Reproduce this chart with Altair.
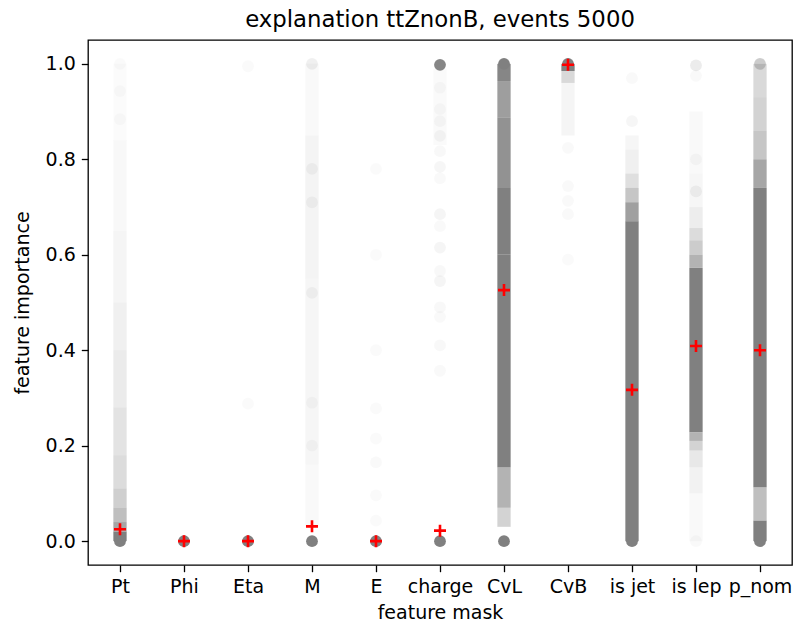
import altair as alt
import pandas as pd

features = ["Pt", "Phi", "Eta", "M", "E", "charge", "CvL", "CvB", "is jet", "is lep", "p_nom"]
mean_importance = [0.025, 0.0, 0.0, 0.031, 0.0, 0.022, 0.526, 0.998, 0.317, 0.409, 0.400]

# dense stretches of overlapping points: feature, low, high, apparent opacity
band_feature = (["Pt"] * 11 + ["M"] * 4 + ["charge"] + ["CvL"] * 7 + ["CvB"] * 3
                + ["is jet"] * 6 + ["is lep"] * 12 + ["p_nom"] * 7)
band_low = [0.0, 0.02, 0.04, 0.07, 0.11, 0.18, 0.28, 0.40, 0.50, 0.65, 0.84,
            0.03, 0.16, 0.55, 0.85,
            0.83,
            0.03, 0.07, 0.155, 0.60, 0.74, 0.887, 0.964,
            0.85, 0.96, 0.985,
            0.0, 0.67, 0.71, 0.74, 0.77, 0.82,
            0.0, 0.10, 0.155, 0.19, 0.21, 0.228, 0.573, 0.60, 0.63, 0.656, 0.70, 0.77,
            0.0, 0.043, 0.113, 0.74, 0.80, 0.86, 0.93]
band_high = [0.02, 0.04, 0.07, 0.11, 0.18, 0.28, 0.40, 0.50, 0.65, 0.84, 1.0,
             0.16, 0.55, 0.85, 1.0,
             0.99,
             0.07, 0.155, 0.60, 0.74, 0.887, 0.964, 1.0,
             0.96, 0.985, 1.0,
             0.67, 0.71, 0.74, 0.77, 0.82, 0.85,
             0.10, 0.155, 0.19, 0.21, 0.228, 0.573, 0.60, 0.63, 0.656, 0.70, 0.77, 0.90,
             0.043, 0.113, 0.74, 0.80, 0.86, 0.93, 1.0]
band_alpha = [1.0, 0.7, 0.5, 0.38, 0.28, 0.22, 0.16, 0.12, 0.08, 0.06, 0.035,
              0.05, 0.07, 0.09, 0.05,
              0.04,
              0.35, 0.6, 1.0, 1.0, 0.86, 0.76, 0.95,
              0.08, 0.3, 1.0,
              1.0, 0.75, 0.45, 0.25, 0.12, 0.07,
              0.05, 0.1, 0.18, 0.35, 0.6, 1.0, 0.6, 0.4, 0.28, 0.14, 0.07, 0.05,
              1.0, 0.5, 1.0, 0.7, 0.45, 0.35, 0.3]

# single visible points: feature, value, apparent opacity
dot_feature = (["Pt"] * 4 + ["Phi"] + ["Eta"] * 3 + ["M"] * 7 + ["E"] * 9
               + ["charge"] * 18 + ["CvL"] * 2 + ["CvB"] * 6 + ["is jet"] * 3
               + ["is lep"] * 5 + ["p_nom"] * 2)
dot_value = [0.0, 1.0, 0.943, 0.884,
             0.0,
             0.0, 0.995, 0.288,
             0.0, 1.0, 0.78, 0.71, 0.52, 0.29, 0.20,
             0.0, 0.78, 0.60, 0.40, 0.278, 0.215, 0.165, 0.096, 0.043,
             0.0, 0.998, 0.95, 0.905, 0.88, 0.849, 0.817, 0.784, 0.76,
             0.685, 0.66, 0.615, 0.566, 0.545, 0.49, 0.47, 0.41, 0.357,
             0.0, 1.0,
             1.0, 0.824, 0.744, 0.713, 0.685, 0.59,
             0.0, 0.97, 0.88,
             0.0, 0.997, 0.975, 0.733, 0.80,
             0.0, 1.0]
dot_alpha = [1.0, 0.04, 0.04, 0.04,
             1.0,
             1.0, 0.04, 0.04,
             1.0, 0.12, 0.08, 0.08, 0.08, 0.06, 0.06,
             1.0, 0.04, 0.04, 0.04, 0.04, 0.04, 0.05, 0.04, 0.04,
             1.0, 0.95, 0.05, 0.05, 0.06, 0.07, 0.06, 0.07, 0.05,
             0.08, 0.05, 0.08, 0.06, 0.08, 0.06, 0.05, 0.06, 0.05,
             1.0, 1.0,
             1.0, 0.05, 0.05, 0.05, 0.05, 0.04,
             1.0, 0.05, 0.07,
             0.05, 0.15, 0.05, 0.1, 0.06,
             1.0, 0.4]

bands = pd.DataFrame({"feature": band_feature, "value": band_low,
                      "value2": band_high, "alpha": band_alpha})
dots = pd.DataFrame({"feature": dot_feature, "value": dot_value, "alpha": dot_alpha})
means = pd.DataFrame({"feature": features, "value": mean_importance})

FONT = "DejaVu Sans"
GRAY = "#808080"

x_enc = alt.X("feature:N", sort=features, title="feature mask",
              scale=alt.Scale(type="point", padding=0.5),
              axis=alt.Axis(labelAngle=0))
y_enc = alt.Y("value:Q", title="feature importance",
              scale=alt.Scale(domain=[-0.05, 1.05], nice=False, zero=False),
              axis=alt.Axis(values=[0.0, 0.2, 0.4, 0.6, 0.8, 1.0], format=".1f"))

band_layer = alt.Chart(bands).mark_rule(strokeWidth=13.3, strokeCap="butt", color=GRAY).encode(
    x=x_enc, y=y_enc, y2="value2:Q",
    opacity=alt.Opacity("alpha:Q", scale=None, legend=None),
)

dot_layer = alt.Chart(dots).mark_circle(size=139, color=GRAY).encode(
    x=x_enc, y=y_enc,
    opacity=alt.Opacity("alpha:Q", scale=None, legend=None),
)

mean_layer = alt.Chart(means).mark_point(
    shape="M-1,0L1,0M0,-1L0,1", size=144, filled=False, stroke="red",
    strokeWidth=2.6, opacity=1,
).encode(x=x_enc, y=y_enc)

chart = alt.layer(band_layer, dot_layer, mean_layer).properties(
    width=704, height=525,
    title=alt.TitleParams("explanation ttZnonB, events 5000", font=FONT, fontSize=22.8,
                          fontWeight="normal", color="black", anchor="middle", offset=8),
    autosize=alt.AutoSizeParams(type="none"),
    padding={"left": 88, "top": 40, "right": 1, "bottom": 60},
).configure_view(
    stroke="black", strokeWidth=1.3
).configure_axis(
    grid=False, domain=False,
    labelFont=FONT, titleFont=FONT, labelFontSize=19, titleFontSize=19,
    labelColor="black", titleColor="black", titleFontWeight="normal",
    tickColor="black", tickWidth=1.3, tickSize=6.7, labelPadding=6,
).configure_axisY(
    titlePadding=13
).configure_axisX(
    titlePadding=7
)

chart.save("out.html", embed_options={"renderer": "svg", "actions": False})
